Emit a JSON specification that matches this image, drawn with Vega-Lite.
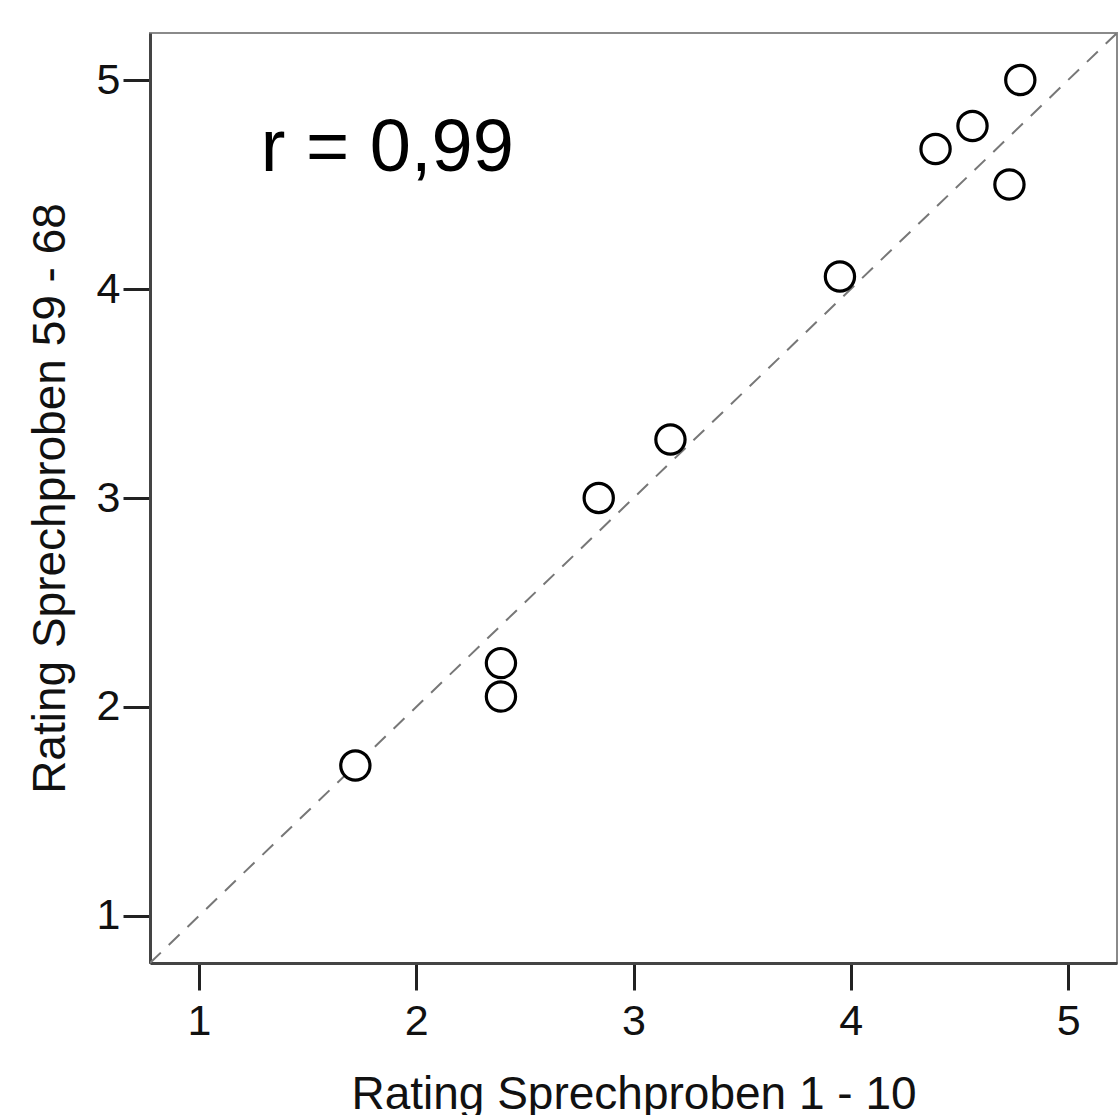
{
  "$schema": "https://vega.github.io/schema/vega-lite/v6.json",
  "autosize": "none",
  "width": 967,
  "height": 930,
  "padding": {"left": 150, "top": 33, "right": 1, "bottom": 152},
  "background": "white",
  "config": {
    "font": "Liberation Sans",
    "view": {"stroke": "#8a8a8a", "strokeWidth": 2},
    "axis": {
      "grid": false,
      "domainColor": "#444444",
      "domainWidth": 3,
      "tickColor": "#222222",
      "tickWidth": 3,
      "tickSize": 27,
      "labelFont": "Liberation Sans",
      "labelFontSize": 43,
      "labelColor": "#111111",
      "titleFont": "Liberation Sans",
      "titleFontSize": 46,
      "titleFontWeight": "normal",
      "titleColor": "#111111"
    }
  },
  "datasets": {
    "points": [
      {"x": 1.72, "y": 1.72},
      {"x": 2.39, "y": 2.05},
      {"x": 2.39, "y": 2.21},
      {"x": 2.84, "y": 3.0},
      {"x": 3.17, "y": 3.28},
      {"x": 3.95, "y": 4.06},
      {"x": 4.39, "y": 4.67},
      {"x": 4.56, "y": 4.78},
      {"x": 4.78, "y": 5.0},
      {"x": 4.73, "y": 4.5}
    ],
    "diag": [
      {"x": 0.775, "y": 0.775},
      {"x": 5.225, "y": 5.225}
    ],
    "label": [
      {"x": 1.285, "y": 4.565, "text": "r = 0,99"}
    ]
  },
  "layer": [
    {
      "data": {"name": "diag"},
      "mark": {"type": "line", "color": "#777777", "strokeWidth": 2, "strokeDash": [15, 11], "clip": true},
      "encoding": {
        "x": {"field": "x", "type": "quantitative", "scale": {"domain": [0.775, 5.225], "nice": false, "zero": false},
          "axis": {"values": [1, 2, 3, 4, 5], "format": "d", "title": "Rating Sprechproben 1 - 10", "labelPadding": 10, "titlePadding": 29}},
        "y": {"field": "y", "type": "quantitative", "scale": {"domain": [0.775, 5.225], "nice": false, "zero": false},
          "axis": {"values": [1, 2, 3, 4, 5], "format": "d", "title": "Rating Sprechproben 59 - 68", "labelPadding": 3, "titlePadding": 22}}
      }
    },
    {
      "data": {"name": "points"},
      "mark": {"type": "point", "shape": "circle", "filled": false, "fill": "white", "fillOpacity": 1, "stroke": "black", "strokeWidth": 3.2, "size": 855, "opacity": 1},
      "encoding": {
        "x": {"field": "x", "type": "quantitative"},
        "y": {"field": "y", "type": "quantitative"}
      }
    },
    {
      "data": {"name": "label"},
      "mark": {"type": "text", "align": "left", "baseline": "alphabetic", "fontSize": 74, "font": "Liberation Sans", "color": "black"},
      "encoding": {
        "x": {"field": "x", "type": "quantitative"},
        "y": {"field": "y", "type": "quantitative"},
        "text": {"field": "text"}
      }
    }
  ]
}
